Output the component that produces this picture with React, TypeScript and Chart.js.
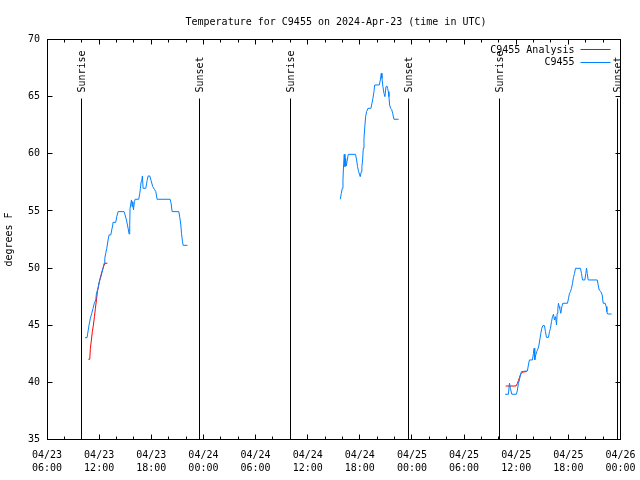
import React, { useEffect, useRef } from "react";
import { Chart, registerables } from "chart.js";

Chart.register(...registerables);

// Hours since 2024-04-23 00:00 UTC; null separates gaps in the record
const stationHours = [
  10.38, 10.61, 10.73, 10.84, 10.99, 11.15, 11.3, 11.42, 11.61, 11.69, 11.88, 11.99, 12.15, 12.3, 12.45, 12.57,
  12.65, 12.76, 12.88, 13.03, 13.14, 13.34, 13.45, 13.57, 13.6, 13.91, 14.03, 14.18, 14.87, 14.99, 15.14, 15.26,
  15.37, 15.45, 15.52, 15.56, 15.72, 15.79, 15.87, 15.95, 16.06, 16.14, 16.56, 16.68, 16.75, 16.83, 16.91, 16.98,
  17.06, 17.37, 17.52, 17.64, 17.83, 17.98, 18.17, 18.36, 18.52, 18.67, 20.17, 20.28, 20.4, 21.17, 21.28, 21.4,
  21.48, 21.59, 21.67, 22.17,
  31,
  39.75, 39.87, 39.98, 40.06, 40.14, 40.21, 40.29, 40.37, 40.44, 40.56, 40.67, 41.51, 41.63, 41.74, 41.86, 42.05,
  42.17, 42.24, 42.32, 42.4, 42.48, 42.59, 42.67, 42.78, 42.94, 43.28, 43.4, 43.51, 43.63, 43.71, 44.24, 44.36,
  44.47, 44.55, 44.66, 44.78, 44.89, 45.01, 45.12, 45.2, 45.28, 45.35, 45.43, 45.55, 45.66, 45.78, 45.93, 46.47,
  52,
  58.72, 59.1, 59.22, 59.33, 59.49, 60.02, 60.14, 60.25, 60.37, 60.48, 60.6, 61.29, 61.4, 61.52, 61.86, 61.98,
  62.06, 62.13, 62.25, 62.36, 62.48, 62.6, 62.71, 62.83, 62.94, 63.06, 63.25, 63.36, 63.48, 63.71, 63.83, 63.94,
  64.06, 64.17, 64.29, 64.4, 64.52, 64.64, 64.71, 64.79, 64.86, 64.94, 65.01, 65.13, 65.25, 65.36, 65.9, 66.02,
  66.13, 66.24, 66.36, 66.48, 66.59, 66.71, 66.82, 67.39, 67.51, 67.63, 67.9, 68.01, 68.09, 68.17, 68.28, 69.32,
  69.43, 69.55, 69.74, 69.89, 70.01, 70.24, 70.35, 70.43, 70.51, 70.97,
];
const stationTemps = [
  43.91, 43.91, 44.5, 45.02, 45.61, 46.04, 46.48, 46.86, 47.21, 47.79, 48.23, 48.73, 49.1, 49.54, 49.98, 50.42,
  50.86, 51.29, 51.73, 52.46, 52.9, 52.9, 53.33, 53.77, 54.0, 54.0, 54.5, 54.94, 54.94, 54.65, 54.21, 53.77,
  53.33, 52.98, 53.77, 55.23, 55.96, 55.38, 55.81, 55.08, 55.81, 56.02, 56.02, 56.54, 56.98, 57.56, 57.71, 58.06,
  56.98, 56.98, 57.65, 58.06, 58.06, 57.65, 57.13, 56.89, 56.69, 56.02, 56.02, 55.67, 54.94, 54.94, 54.44, 53.77,
  53.04, 52.31, 51.99, 51.99,
  null,
  56.02, 56.54, 56.98, 57.71, 59.17, 59.95, 58.88, 59.6, 58.93, 59.46, 59.95, 59.95, 59.46, 58.88, 58.44, 58.0,
  58.44, 58.88, 59.46, 60.48, 61.36, 62.52, 63.25, 63.69, 63.98, 63.98, 64.42, 64.86, 65.44, 66.02, 66.02, 66.46,
  67.04, 66.6, 65.87, 65.29, 65.0, 65.87, 65.93, 65.72, 65.44, 65.0, 64.27, 63.98, 63.89, 63.54, 63.02, 63.02,
  null,
  38.96, 38.96, 39.92, 39.48, 38.96, 38.96, 39.33, 39.92, 40.21, 40.65, 40.94, 41.0, 41.52, 41.96, 41.96, 42.54,
  42.98, 41.96, 42.4, 42.69, 42.9, 43.18, 43.71, 44.29, 44.73, 44.96, 44.96, 44.44, 43.94, 43.94, 44.44, 44.73,
  45.31, 45.75, 45.96, 45.46, 45.75, 45.02, 46.04, 46.48, 46.92, 46.63, 46.48, 46.04, 46.63, 46.92, 46.92, 47.36,
  47.79, 47.94, 48.23, 48.67, 49.19, 49.54, 49.98, 49.98, 49.54, 48.96, 48.96, 49.54, 49.98, 49.54, 48.96, 48.96,
  48.52, 48.08, 47.94, 47.65, 46.92, 46.92, 46.63, 46.19, 45.98, 45.98,
];

const analysisHours = [
  10.76, 10.92, 10.99, 11.11, 11.22, 11.34, 11.46, 11.57, 11.69, 11.8, 11.95, 12.07, 12.22, 12.38, 12.53, 12.68, 12.95,
  30,
  58.79, 59.98, 60.14, 60.25, 60.37, 60.48, 60.6, 60.75, 61.21,
];
const analysisTemps = [
  42.02, 42.02, 42.98, 43.71, 44.44, 45.02, 45.75, 46.48, 47.21, 47.94, 48.52, 48.96, 49.4, 49.83, 50.18, 50.42, 50.42,
  null,
  39.68, 39.68, 39.92, 40.15, 40.41, 40.65, 40.79, 40.91, 40.94,
];

const sunHours = [9.95, 23.53, 33.97, 47.55, 58.03, 71.65];
const sunLabels = ["Sunrise", "Sunset", "Sunrise", "Sunset", "Sunrise", "Sunset"];

const xTickHours = [6, 12, 18, 24, 30, 36, 42, 48, 54, 60, 66, 72];
const xTickLabels = [
  ["04/23", "06:00"], ["04/23", "12:00"], ["04/23", "18:00"], ["04/24", "00:00"],
  ["04/24", "06:00"], ["04/24", "12:00"], ["04/24", "18:00"], ["04/25", "00:00"],
  ["04/25", "06:00"], ["04/25", "12:00"], ["04/25", "18:00"], ["04/26", "00:00"],
];
const xMinorStep = 2;
const yTicks = [35, 40, 45, 50, 55, 60, 65, 70];

const titleText = "Temperature for C9455 on 2024-Apr-23 (time in UTC)";
const yTitleText = "degrees F";
const seriesNames = ["C9455 Analysis", "C9455"];
const seriesColors = ["#ff0000", "#0080ff"];

const FONT = "'DejaVu Sans Mono', 'Liberation Mono', monospace";

const gnuplotDecor = {
  id: "gnuplotDecor",
  afterDraw(chart: any) {
    const ctx = chart.ctx as CanvasRenderingContext2D;
    const { left, right, top, bottom } = chart.chartArea;
    const xs = chart.scales.x;
    const ys = chart.scales.y;
    const L = Math.floor(left) + 0.5;
    const R = Math.floor(right) + 0.5;
    const T = Math.floor(top) + 0.5;
    const B = Math.floor(bottom) + 0.5;
    ctx.save();
    ctx.strokeStyle = "#000";
    ctx.lineWidth = 1;
    ctx.beginPath();
    // ticks on x (bottom & top), every 2 hours, major every 6
    for (let h = xs.min; h <= xs.max + 1e-9; h += xMinorStep) {
      const px = Math.floor(xs.getPixelForValue(h)) + 0.5;
      const len = xTickHours.includes(h) ? 5 : 3;
      ctx.moveTo(px, B);
      ctx.lineTo(px, B - len);
      ctx.moveTo(px, T);
      ctx.lineTo(px, T + len);
    }
    for (const v of yTicks) {
      const py = Math.floor(ys.getPixelForValue(v)) + 0.5;
      ctx.moveTo(L, py);
      ctx.lineTo(L + 5, py);
      ctx.moveTo(R, py);
      ctx.lineTo(R - 5, py);
    }
    ctx.stroke();
    ctx.strokeRect(L, T, R - L, B - T);

    // sunrise / sunset markers
    ctx.font = `10px ${FONT}`;
    ctx.fillStyle = "#000";
    sunHours.forEach((h, i) => {
      const px = Math.floor(xs.getPixelForValue(h)) + 0.5;
      ctx.beginPath();
      ctx.moveTo(px, T + 59);
      ctx.lineTo(px, B);
      ctx.stroke();
      ctx.save();
      ctx.translate(px + 1, T + 53);
      ctx.rotate(-Math.PI / 2);
      ctx.textAlign = "left";
      ctx.textBaseline = "middle";
      ctx.fillText(sunLabels[i], 0, 0);
      ctx.restore();
    });

    // legend
    ctx.textAlign = "right";
    ctx.textBaseline = "middle";
    const legendY = [T + 10.5, T + 23];
    seriesNames.forEach((name, i) => {
      ctx.fillStyle = "#000";
      ctx.fillText(name, R - 46, legendY[i]);
      ctx.strokeStyle = seriesColors[i];
      ctx.beginPath();
      const ly = Math.floor(legendY[i] - 0.5) + 0.5;
      ctx.moveTo(R - 40, ly);
      ctx.lineTo(R - 10, ly);
      ctx.stroke();
    });

    // title
    ctx.fillStyle = "#000";
    ctx.textAlign = "center";
    ctx.textBaseline = "alphabetic";
    ctx.fillText(titleText, 336, 25);

    // y title
    ctx.save();
    ctx.translate(9.5, (T + B) / 2);
    ctx.rotate(-Math.PI / 2);
    ctx.textAlign = "center";
    ctx.textBaseline = "middle";
    ctx.fillText(yTitleText, 0, 0);
    ctx.restore();

    ctx.restore();
  },
};

export default function App() {
  const canvasRef = useRef<HTMLCanvasElement | null>(null);

  useEffect(() => {
    if (!canvasRef.current) return;
    const stationPts = stationHours.map((h, i) => ({ x: h, y: stationTemps[i] }));
    const analysisPts = analysisHours.map((h, i) => ({ x: h, y: analysisTemps[i] }));
    const chart = new Chart(canvasRef.current, {
      type: "line",
      data: {
        datasets: [
          {
            label: seriesNames[1],
            data: stationPts as any,
            borderColor: seriesColors[1],
            borderWidth: 1,
            pointRadius: 0,
            tension: 0,
            spanGaps: false,
          },
          {
            label: seriesNames[0],
            data: analysisPts as any,
            borderColor: seriesColors[0],
            borderWidth: 1,
            pointRadius: 0,
            tension: 0,
            spanGaps: false,
          },
        ],
      },
      options: {
        responsive: false,
        animation: false,
        events: [],
        layout: { padding: { top: 39.5, right: 19.5, left: 0, bottom: 0 } },
        plugins: {
          legend: { display: false },
          title: { display: false },
          tooltip: { enabled: false },
        },
        scales: {
          x: {
            type: "linear",
            min: 6,
            max: 72,
            afterBuildTicks: (s: any) => {
              s.ticks = xTickHours.map((v) => ({ value: v }));
            },
            afterFit: (s: any) => {
              s.height = 40.5;
              s.paddingLeft = 0;
              s.paddingRight = 0;
            },
            grid: { display: false, drawTicks: false },
            border: { display: false },
            ticks: {
              autoSkip: false,
              maxRotation: 0,
              padding: 9,
              color: "#000",
              font: { family: FONT, size: 10, lineHeight: 1.3 },
              callback: (v: any) => {
                const i = xTickHours.indexOf(Number(v));
                return i >= 0 ? xTickLabels[i] : "";
              },
            },
          },
          y: {
            type: "linear",
            min: 35,
            max: 70,
            afterBuildTicks: (s: any) => {
              s.ticks = yTicks.map((v) => ({ value: v }));
            },
            afterFit: (s: any) => {
              s.width = 47;
              s.paddingTop = 0;
              s.paddingBottom = 0;
            },
            grid: { display: false, drawTicks: false },
            border: { display: false },
            ticks: {
              padding: 7,
              color: "#000",
              font: { family: FONT, size: 10 },
            },
          },
        },
      },
      plugins: [gnuplotDecor],
    });
    return () => chart.destroy();
  }, []);

  return (
    <div style={{ position: "absolute", left: 0, top: 0, width: 640, height: 480, background: "#fff" }}>
      <canvas ref={canvasRef} width={640} height={480} style={{ display: "block" }} />
    </div>
  );
}
